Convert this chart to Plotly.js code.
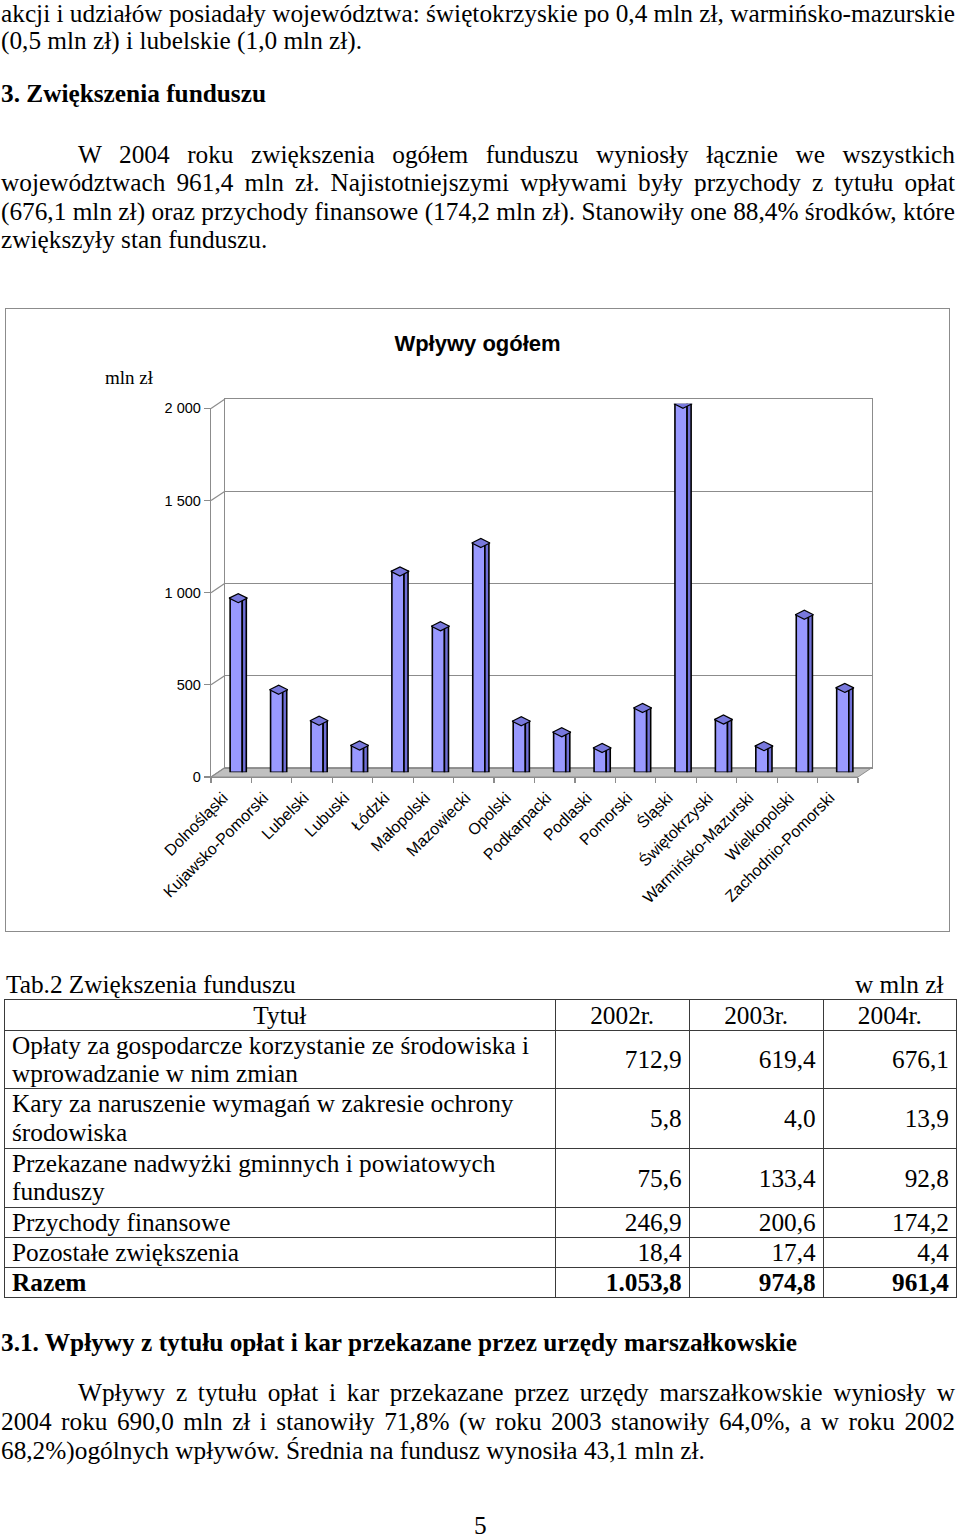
<!DOCTYPE html>
<html>
<head>
<meta charset="utf-8">
<script src="https://cdn.plot.ly/plotly-3.0.1.min.js"></script>
<style>
  html,body{margin:0;padding:0;background:#fff;}
  body{width:960px;height:1537px;position:relative;overflow:hidden;font-family:"Liberation Serif","Times New Roman",serif;color:#000;}
  .ln{position:absolute;font-size:25.3px;line-height:20px;white-space:nowrap;}
  .b{font-weight:bold;}
  #chart{position:absolute;left:5px;top:308px;width:945px;height:624px;}
  #chartbox{position:absolute;left:5px;top:308px;width:945px;height:624px;box-sizing:border-box;border:1.5px solid #8c8c8c;pointer-events:none;}
  #tab{position:absolute;left:4px;top:999px;border-collapse:collapse;table-layout:fixed;width:952px;font-size:25.3px;line-height:28.5px;}
  #tab td{border:1.5px solid #3a3a3a;padding:0;white-space:nowrap;overflow:visible;}
  #tab td.t{padding-left:7px;vertical-align:top;padding-top:0px;}
  #tab td.n{text-align:right;padding-right:7px;vertical-align:middle;}
  #tab td.h{text-align:center;vertical-align:top;padding-top:1px;}
  #tab tr.bold td{font-weight:bold;}
</style>
</head>
<body>
<div id="chart"></div>
<div id="chartbox"></div>
<script>
// ---------------- chart data ----------------
const categories = ['Dolnośląski','Kujawsko-Pomorski','Lubelski','Lubuski','Łódzki','Małopolski','Mazowiecki','Opolski','Podkarpacki','Podlaski','Pomorski','Śląski','Świętokrzyski','Warmińsko-Mazurski','Wielkopolski','Zachodnio-Pomorski'];
const values = [945, 448, 280, 145, 1090, 792, 1244, 277, 217, 132, 349, 2000, 286, 142, 855, 458];
const yTickVals = [0, 500, 1000, 1500, 2000];
const yTickText = ['0', '500', '1 000', '1 500', '2 000'];
const chartTitle = 'Wpływy ogółem';
const unitLabel = 'mln zł';

// ---------------- table data ----------------
const tableHeader = ['Tytuł', '2002r.', '2003r.', '2004r.'];
const rowTitles = [
  ['Opłaty za gospodarcze korzystanie ze środowiska i', 'wprowadzanie w nim zmian'],
  ['Kary za naruszenie wymagań w zakresie ochrony', 'środowiska'],
  ['Przekazane nadwyżki gminnych i powiatowych', 'funduszy'],
  ['Przychody finansowe'],
  ['Pozostałe zwiększenia'],
  ['Razem']
];
const y2002 = ['712,9', '5,8', '75,6', '246,9', '18,4', '1.053,8'];
const y2003 = ['619,4', '4,0', '133,4', '200,6', '17,4', '974,8'];
const y2004 = ['676,1', '13,9', '92,8', '174,2', '4,4', '961,4'];

// ---------------- page text ----------------
const textLines = [
  {t:'akcji i udziałów posiadały województwa: świętokrzyskie po 0,4 mln zł, warmińsko-mazurskie', base:21.5, left:1, right:955},
  {t:'(0,5 mln zł) i lubelskie (1,0 mln zł).', base:48.5, left:1},
  {t:'3. Zwiększenia funduszu', base:101, left:1, bold:true},
  {t:'W 2004 roku zwiększenia ogółem funduszu wyniosły łącznie we wszystkich', base:162, left:78, right:955},
  {t:'województwach 961,4 mln zł. Najistotniejszymi wpływami były przychody z tytułu opłat', base:190.5, left:1, right:955},
  {t:'(676,1 mln zł) oraz przychody finansowe (174,2 mln zł). Stanowiły one 88,4% środków, które', base:219, left:1, right:955},
  {t:'zwiększyły stan funduszu.', base:247.5, left:1},
  {t:'Tab.2 Zwiększenia funduszu', base:992, left:6},
  {t:'w mln zł', base:992, left:855},
  {t:'3.1. Wpływy z tytułu opłat i kar przekazane przez urzędy marszałkowskie', base:1350, left:1, bold:true},
  {t:'Wpływy z tytułu opłat i kar przekazane przez urzędy marszałkowskie wyniosły w', base:1400, left:78, right:955},
  {t:'2004 roku 690,0 mln zł i stanowiły 71,8% (w roku 2003 stanowiły 64,0%, a w roku 2002', base:1429, left:1, right:955},
  {t:'68,2%)ogólnych wpływów. Średnia na fundusz wynosiła 43,1 mln zł.', base:1458, left:1},
  {t:'5', base:1533, left:474}
];

function addLines(){
  textLines.forEach(o=>{
    const d=document.createElement('div');
    d.className='ln'+(o.bold?' b':'');
    d.textContent=o.t;
    d.style.left=o.left+'px';
    d.style.top=(o.base-18.5)+'px';
    document.body.appendChild(d);
    if(o.right){
      const w=d.getBoundingClientRect().width;
      const n=(o.t.match(/ /g)||[]).length;
      if(n>0){ d.style.wordSpacing=((o.right-o.left-w)/n)+'px'; }
    }
  });
}

function addTable(){
  const tb=document.createElement('table');
  tb.id='tab';
  const cg=document.createElement('colgroup');
  [550.7,134,134,133.3].forEach(w=>{const c=document.createElement('col');c.style.width=w+'px';cg.appendChild(c);});
  tb.appendChild(cg);
  const rowH=[29.7,58.7,59.6,59.4,29.3,30,30];
  const hr=document.createElement('tr');hr.style.height=rowH[0]+'px';
  tableHeader.forEach(h=>{const td=document.createElement('td');td.className='h';td.textContent=h;hr.appendChild(td);});
  tb.appendChild(hr);
  rowTitles.forEach((rt,i)=>{
    const tr=document.createElement('tr');tr.style.height=rowH[i+1]+'px';
    if(i===rowTitles.length-1) tr.className='bold';
    const td=document.createElement('td');td.className='t';
    rt.forEach((s,k)=>{ if(k>0) td.appendChild(document.createElement('br')); td.appendChild(document.createTextNode(s)); });
    tr.appendChild(td);
    [y2002[i],y2003[i],y2004[i]].forEach(v=>{const c=document.createElement('td');c.className='n';c.textContent=v;tr.appendChild(c);});
    tb.appendChild(tr);
  });
  document.body.appendChild(tb);
}

function drawChart(){
  const W=945,H=624;
  const mL=206,mR=78,mT=91,mB=155;
  const PW=W-mL-mR, PH=H-mT-mB;
  const dx=14, dy=9.4;
  const fx=(PW-dx)/PW, bx=dx/PW, fy=(PH-dy)/PH, by=dy/PH;
  const font='"Liberation Sans", Arial, sans-serif';
  const grey='#8c8c8c';

  const traces=[
    // invisible carrier for the back-wall subplot (gridlines)
    {type:'bar', x:categories, y:values, xaxis:'x', yaxis:'y', marker:{color:'rgba(0,0,0,0)'}, hoverinfo:'skip', showlegend:false},
    // invisible carrier so the front category axis knows its categories
    {type:'bar', x:categories, y:values, xaxis:'x2', yaxis:'y2', marker:{color:'rgba(0,0,0,0)'}, hoverinfo:'skip', showlegend:false},
    // bar front face
    {type:'bar', x:categories, y:values, xaxis:'x3', yaxis:'y3', width:0.3, offset:-0.2,
     marker:{color:'#9999ff', line:{color:'#000', width:1.6}}, showlegend:false},
    // bar side face
    {type:'bar', x:categories, y:values, xaxis:'x3', yaxis:'y3', width:0.1, offset:0.1,
     marker:{color:'#6f6fd6', line:{color:'#000', width:1.6}}, showlegend:false},
    // bar top cap
    {type:'scatter', mode:'markers', x:categories, y:values, xaxis:'x3', yaxis:'y3',
     marker:{symbol:'diamond-wide', size:13, color:'#7878dc', line:{color:'#000', width:1.2}}, showlegend:false}
  ];

  const shapes=[
    {type:'path', xref:'paper', yref:'paper',
     path:`M 0 0 L ${fx} 0 L 1 ${by} L ${bx} ${by} Z`,
     fillcolor:'#c0c0c0', line:{color:grey, width:1}, layer:'below'}
  ];
  yTickVals.forEach(v=>{
    const yf=v/2000*fy;
    shapes.push({type:'line', xref:'paper', yref:'paper', x0:0, y0:yf, x1:bx, y1:yf+by, line:{color:grey, width:1.2}, layer:'below'});
  });

  const layout={
    width:W, height:H,
    margin:{l:mL, r:mR, t:mT, b:mB, pad:0},
    paper_bgcolor:'rgba(0,0,0,0)', plot_bgcolor:'rgba(0,0,0,0)',
    barmode:'overlay', showlegend:false,
    title:{text:'<b>'+chartTitle+'</b>', font:{family:font, size:22, color:'#000'},
           x:0.5, xref:'container', y:1-35/H, yref:'container', yanchor:'middle', xanchor:'center'},
    // back wall
    xaxis:{domain:[bx,1], anchor:'y', type:'category', categoryorder:'array', categoryarray:categories,
           range:[-0.5,15.5], showgrid:false, zeroline:false,
           showticklabels:false, ticks:'', showline:true, mirror:true, linecolor:grey, linewidth:1.2},
    yaxis:{domain:[by,1], anchor:'x', range:[0,2000], tickmode:'array', tickvals:yTickVals, showgrid:true, gridcolor:grey, gridwidth:1.2,
           zeroline:false, showticklabels:false, ticks:'', showline:true, mirror:true, linecolor:grey, linewidth:1.2},
    // front plane axes
    xaxis2:{domain:[0,fx], anchor:'y2', type:'category', categoryorder:'array', categoryarray:categories,
            range:[-0.5,15.5], showgrid:false, zeroline:false, showline:true, linecolor:grey, linewidth:1.2,
            ticks:'outside', tickson:'boundaries', ticklen:5, tickcolor:grey, tickwidth:1.2,
            tickangle:-45, ticklabelshift:-8, ticklabelstandoff:4,
            tickfont:{family:font, size:16, color:'#000'}},
    yaxis2:{domain:[0,fy], anchor:'x2', range:[0,2000], tickmode:'array', tickvals:yTickVals, ticktext:yTickText,
            showgrid:false, zeroline:false, showline:true, linecolor:grey, linewidth:1.2,
            ticks:'outside', ticklen:6, tickcolor:grey, tickwidth:1.2, tickfont:{family:font, size:14.5, color:'#000'}},
    // mid-depth axes for bars
    xaxis3:{domain:[bx/2,1-bx/2], anchor:'y3', type:'category', categoryorder:'array', categoryarray:categories,
            range:[-0.5,15.5], visible:false},
    yaxis3:{domain:[by/2,1-by/2], anchor:'x3', range:[0,2000], visible:false},
    shapes:shapes,
    annotations:[{text:unitLabel, xref:'paper', yref:'paper', x:(124-mL)/PW, y:(H-mB-69)/PH,
                  xanchor:'center', yanchor:'middle', showarrow:false,
                  font:{family:'"Liberation Serif", "Times New Roman", serif', size:19, color:'#000'}}]
  };
  Plotly.newPlot('chart', traces, layout, {staticPlot:true, displayModeBar:false});
}

(document.fonts && document.fonts.ready ? document.fonts.ready : Promise.resolve()).then(()=>{
  addLines();
  addTable();
  drawChart();
});
</script>
</body>
</html>
